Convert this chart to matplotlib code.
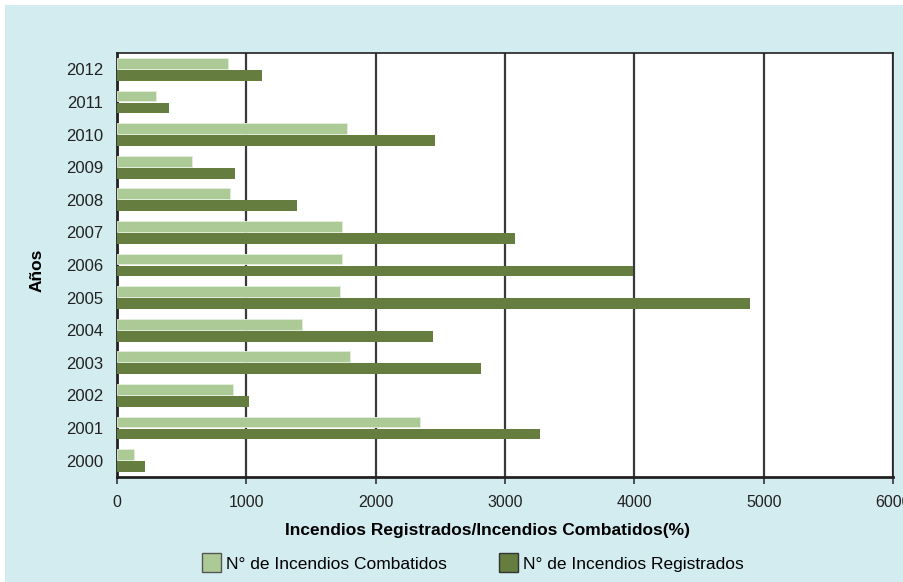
import numpy as np
import matplotlib.pyplot as plt
from matplotlib.patches import Rectangle, Patch

years = [2000, 2001, 2002, 2003, 2004, 2005, 2006, 2007, 2008, 2009, 2010, 2011, 2012]
combatidos = [131, 2343, 897, 1802, 1429, 1726, 1740, 1740, 874, 583, 1781, 302, 858]
registrados = [217, 3273, 1021, 2814, 2444, 4896, 3991, 3079, 1392, 915, 2462, 402, 1121]
xticks = [0, 1000, 2000, 3000, 4000, 5000, 6000]

bg = "#D3ECEF"
light = "#ACCA96"
dark = "#657D3E"

plt.rcParams['font.family'] = ['Liberation Sans', 'DejaVu Sans']

fig = plt.figure(figsize=(9.04, 5.82), dpi=100, facecolor="white")
fig.patches.append(Rectangle((5/904, 0), 1, 1 - 5/582, transform=fig.transFigure,
                             facecolor=bg, edgecolor="none", zorder=-10))

ax = fig.add_axes([117/904, 1 - 477/582, 776/904, 424/582])
ax.set_facecolor("white")

y = np.arange(len(years))
h = 0.33
ax.barh(y + 0.185, combatidos, height=h, color=light, edgecolor="#E4EEDC", linewidth=0.6, zorder=3)
ax.barh(y - 0.185, registrados, height=h, color=dark, edgecolor="none", zorder=3)

ax.set_xlim(0, 6000)
ax.set_ylim(-0.5, len(years) - 0.5)
ax.set_xticks(xticks)
ax.set_xticklabels([str(t) for t in xticks], fontsize=11.5, color="#222222")
ax.set_yticks(y)
ax.set_yticklabels([str(v) for v in years], fontsize=12, color="#222222")
ax.tick_params(axis="x", length=5, width=1.2, color="#333333", pad=8)
ax.tick_params(axis="y", length=0, pad=10)

ax.grid(axis="x", color="#3a3a3a", linewidth=1.6, zorder=1)
for s in ax.spines.values():
    s.set_color("#222222")
    s.set_linewidth(1.2)
ax.spines["left"].set_linewidth(2)
ax.spines["bottom"].set_linewidth(2)

fig.text(488/904, 1 - 530/582, "Incendios Registrados/Incendios Combatidos(%)", fontsize=12.5,
         fontweight="bold", ha="center", va="center")
fig.text(37/904, 1 - 270/582, "Años", fontsize=12.5, fontweight="bold", rotation=90,
         ha="center", va="center")

handles = [Patch(facecolor=light, edgecolor="#555555", label="N° de Incendios Combatidos"),
           Patch(facecolor=dark, edgecolor="#333333", label="N° de Incendios Registrados")]
fig.legend(handles=handles, loc="lower center", bbox_to_anchor=(0.523, -0.01), ncol=2,
           frameon=False, fontsize=12.5, handlelength=1.1, handleheight=1.3,
           handletextpad=0.3, columnspacing=3)

fig.savefig("out.png", dpi=100, facecolor=fig.get_facecolor())
